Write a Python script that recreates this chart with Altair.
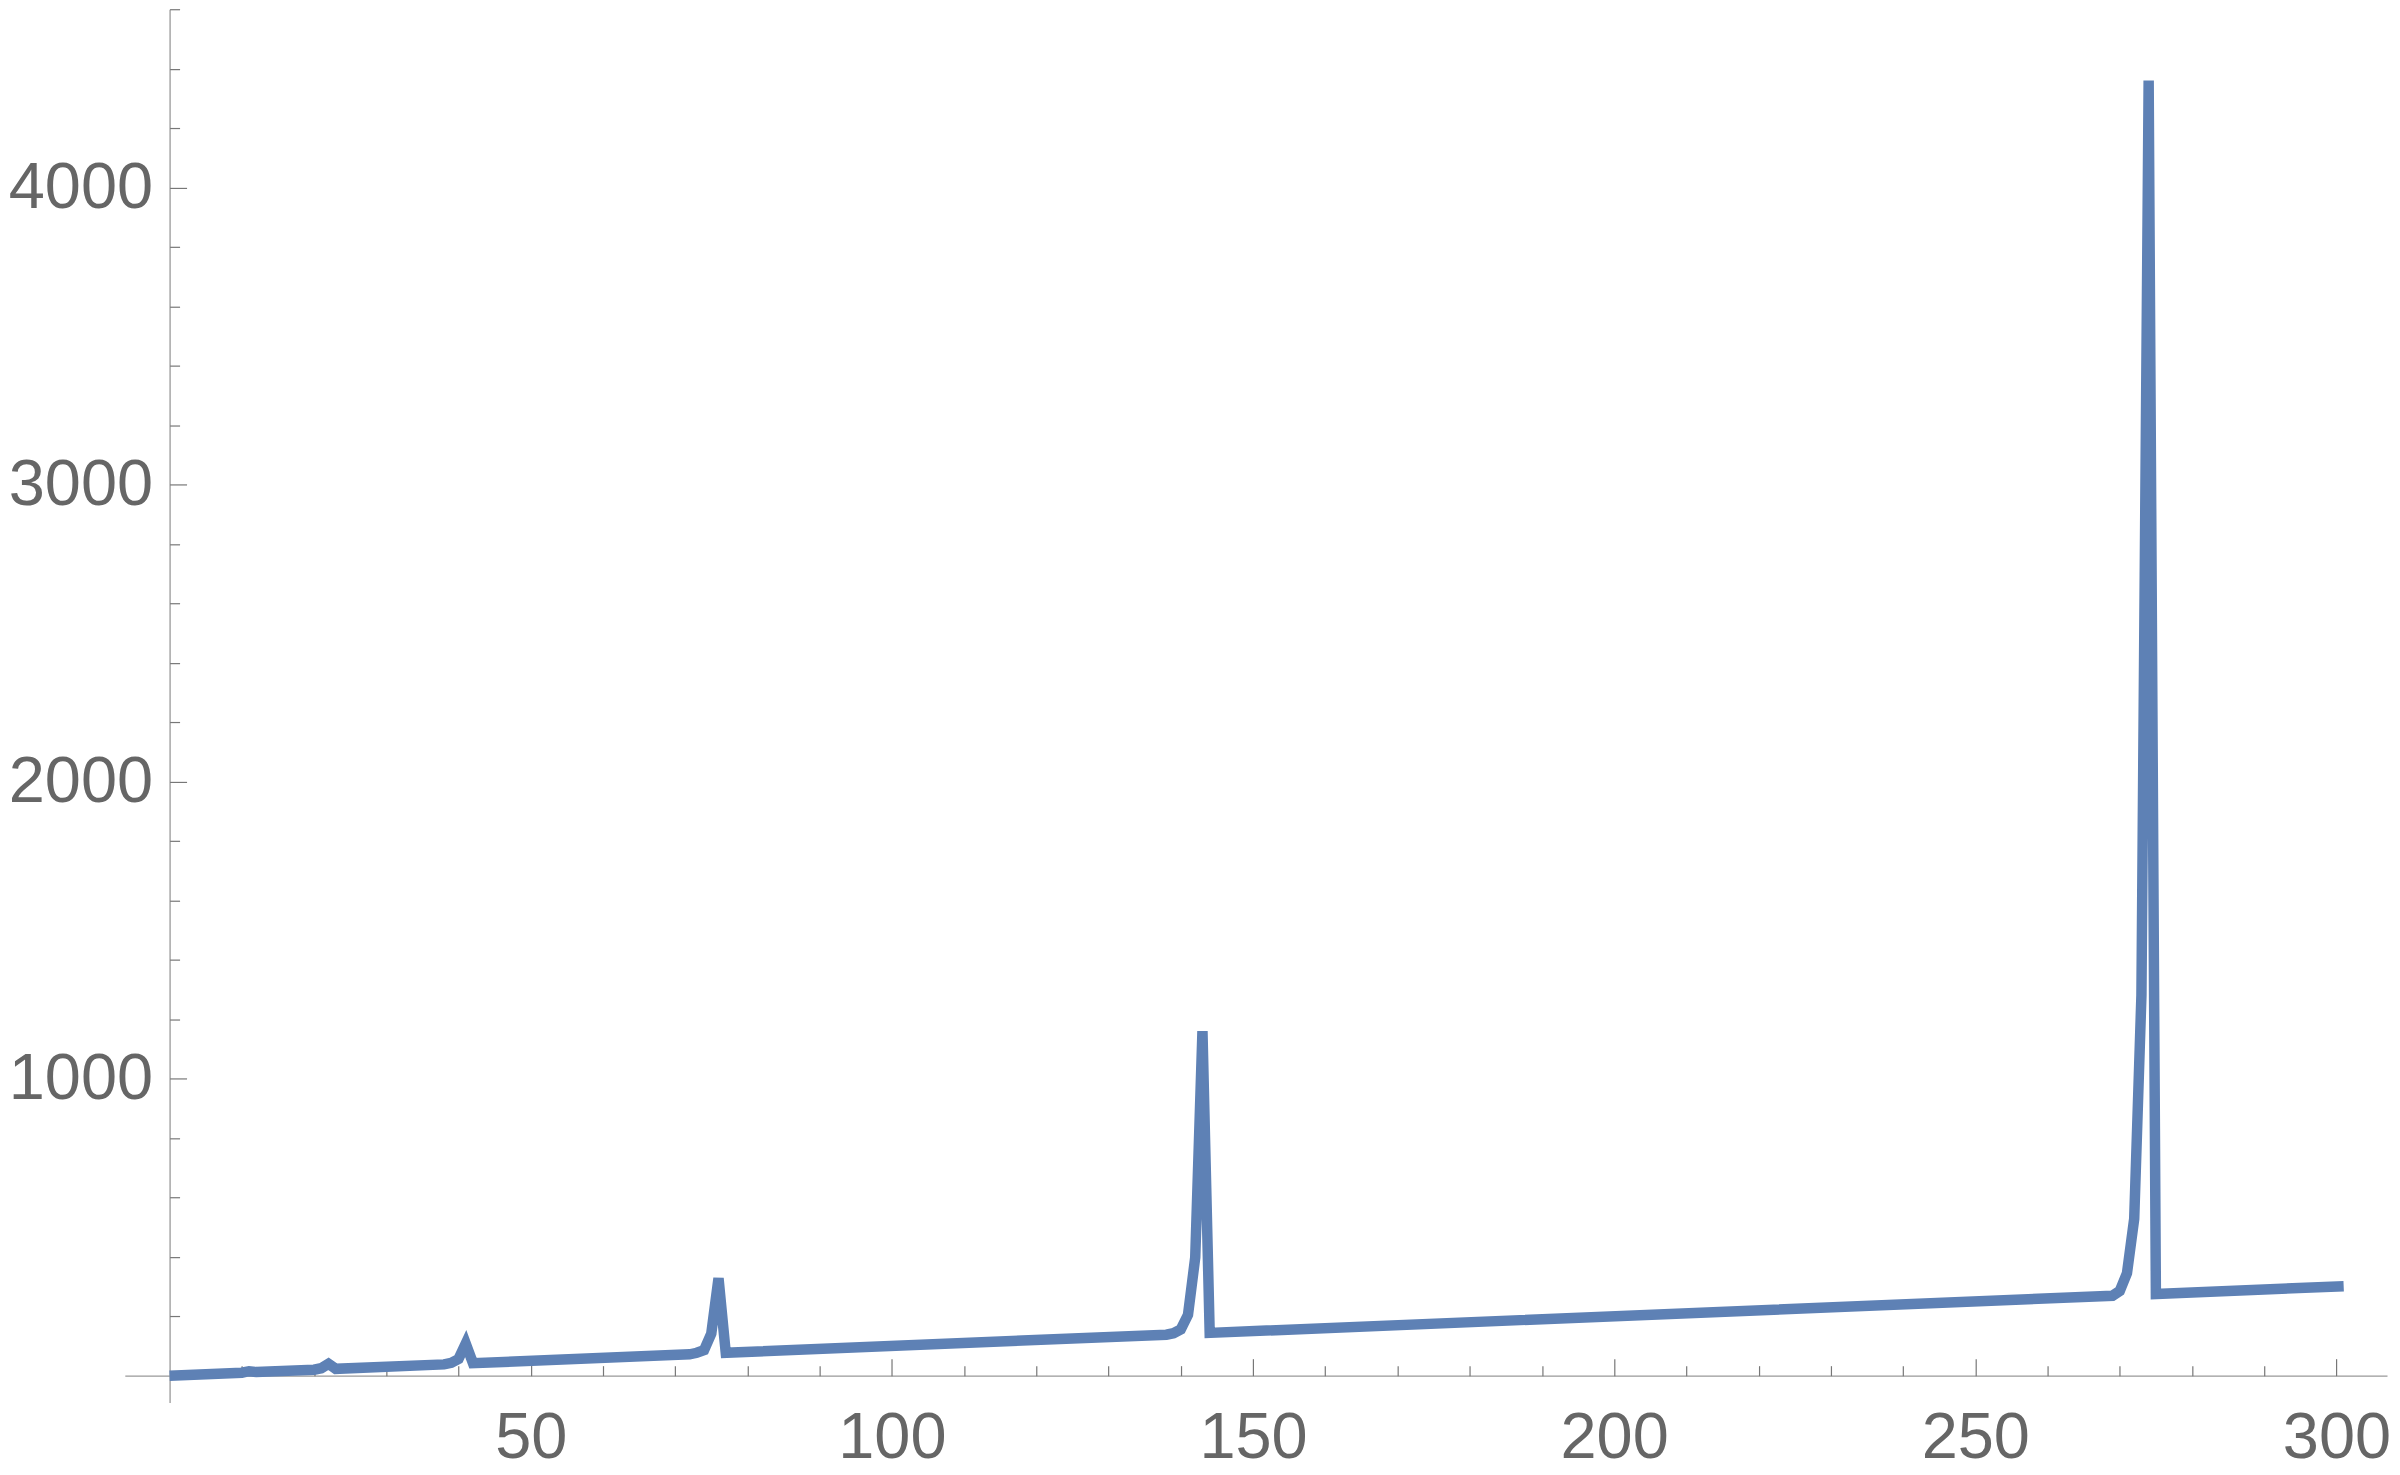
import altair as alt
import pandas as pd

# vertices of the polyline (x, y)
x_vals = [0, 10, 11, 12, 20, 21, 22, 23, 38, 39, 40, 41, 42,
          72, 73, 74, 75, 76, 77, 138, 139, 140, 141, 142, 143, 144,
          269, 270, 271, 272, 273, 274, 275, 301]
y_vals = [0, 10, 15, 12, 20, 25, 40, 23, 38, 43, 56, 108, 42,
          72, 77, 86, 142, 328, 77, 138, 143, 156, 205, 398, 1160, 144,
          269, 285, 345, 528, 1280, 4360, 275, 301]

x_label_values = [50, 100, 150, 200, 250, 300]
y_label_values = [1000, 2000, 3000, 4000]
x_tick_values = list(range(10, 301, 10))
y_tick_values = list(range(200, 4601, 200))

x_domain = [-6.2, 307]
y_domain = [-90, 4600]

df = pd.DataFrame({"x": x_vals, "y": y_vals})

W = 2266
H = 1395.5
x_px_per = W / (x_domain[1] - x_domain[0])
y_px_per = H / (y_domain[1] - y_domain[0])
y_axis_px = (0 - x_domain[0]) * x_px_per
x_axis_px_from_bottom = (0 - y_domain[0]) * y_px_per

FONT = "Liberation Sans"
LABEL_COLOR = "#666666"
DOMAIN_COLOR = "#999999"
TICK_COLOR = "#777777"

xscale = alt.Scale(domain=x_domain, nice=False, zero=False)
yscale = alt.Scale(domain=y_domain, nice=False, zero=False)

line = alt.Chart(df).mark_line(
    color="#5E81B5", strokeWidth=10.5, strokeCap="butt",
    strokeJoin="miter", strokeMiterLimit=4
).encode(
    x=alt.X("x:Q", scale=xscale, title="",
            axis=alt.Axis(orient="bottom", offset=-x_axis_px_from_bottom,
                          values=x_label_values, format="d", ticks=False, tickSize=0,
                          labelPadding=31, labelFont=FONT, labelFontSize=65,
                          labelColor=LABEL_COLOR, labelOverlap=False,
                          labelFlush=False, grid=False, domain=True,
                          domainColor=DOMAIN_COLOR, domainWidth=1.3)),
    y=alt.Y("y:Q", scale=yscale, title="",
            axis=alt.Axis(orient="left", offset=-y_axis_px,
                          values=y_label_values, format="d", ticks=False, tickSize=0,
                          labelPadding=17, labelFont=FONT, labelFontSize=65,
                          labelColor=LABEL_COLOR, labelOverlap=False,
                          labelFlush=False, grid=False, domain=True,
                          domainColor=DOMAIN_COLOR, domainWidth=1.3)),
)

ticks_layer = alt.Chart(df).mark_line(opacity=0).encode(
    x=alt.X("x:Q", scale=xscale, title="",
            axis=alt.Axis(orient="top", offset=-(H - x_axis_px_from_bottom),
                          values=x_tick_values, labels=False, domain=False,
                          grid=False, ticks=True, tickColor=TICK_COLOR,
                          tickWidth=1.2,
                          tickSize={"condition": {"test": "datum.value % 50 === 0", "value": 17}, "value": 10})),
    y=alt.Y("y:Q", scale=yscale, title="",
            axis=alt.Axis(orient="right", offset=-(W - y_axis_px),
                          values=y_tick_values, labels=False, domain=False,
                          grid=False, ticks=True, tickColor=TICK_COLOR,
                          tickWidth=1.2,
                          tickSize={"condition": {"test": "datum.value % 1000 === 0", "value": 17}, "value": 10})),
)

chart = alt.layer(line, ticks_layer).resolve_axis(
    x="independent", y="independent"
).properties(
    width=W, height=H,
    autosize=alt.AutoSizeParams(type="none"),
    padding={"left": 117, "top": 0, "right": 5, "bottom": 70},
).configure_view(stroke=None)

chart.save("out.html", embed_options={"renderer": "svg", "actions": False})
